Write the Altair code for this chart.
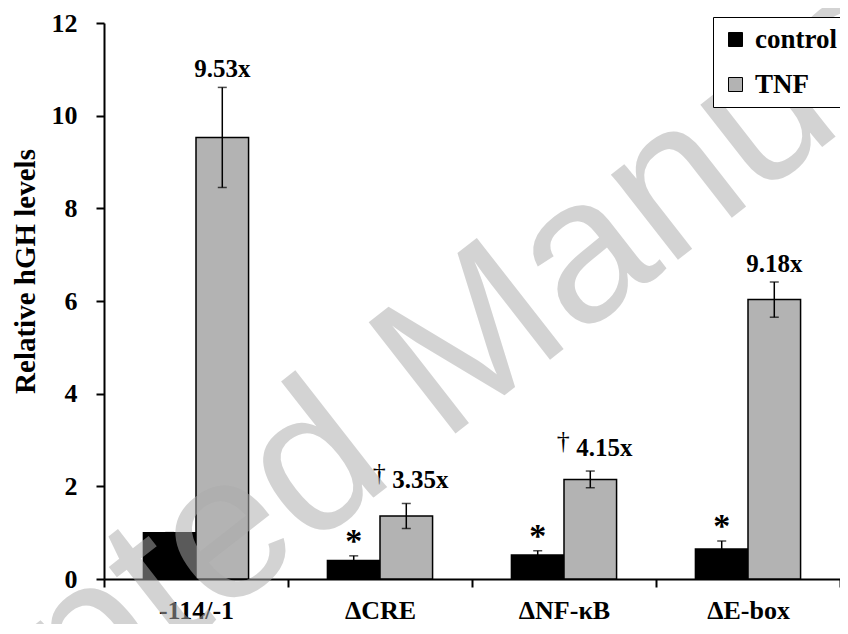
import altair as alt
import pandas as pd

# ---- data ----
categories = ["-114/-1", "ΔCRE", "ΔNF-κB", "ΔE-box"]
series = ["control", "TNF"]
control_mean = [1.00, 0.40, 0.52, 0.65]
control_err = [0.00, 0.10, 0.09, 0.17]
tnf_mean = [9.53, 1.36, 2.15, 6.03]
tnf_err = [1.08, 0.27, 0.18, 0.38]
fold_labels = ["9.53x", "3.35x", "4.15x", "9.18x"]
tnf_dagger = [False, True, True, False]
control_star = [False, True, True, True]
y_ticks = [0, 2, 4, 6, 8, 10, 12]
watermark = "Accepted Manuscript"

rows = []
for i, c in enumerate(categories):
    rows.append(dict(cat=c, series="control", mean=control_mean[i], err=control_err[i],
                     label="", dagger=False, star=control_star[i]))
    rows.append(dict(cat=c, series="TNF", mean=tnf_mean[i], err=tnf_err[i],
                     label=fold_labels[i], dagger=tnf_dagger[i], star=False))
df = pd.DataFrame(rows)
df["lo"] = df["mean"] - df["err"]
df["hi"] = df["mean"] + df["err"]

SERIF = "'Liberation Serif', 'Times New Roman', Times, serif"

x_axis = alt.Axis(title=None, labelAngle=0, labelFontSize=26, labelFont=SERIF,
                  labelFontWeight="bold", labelColor="black", labelPadding=31,
                  labelBaseline="alphabetic", tickBand="extent", tickSize=8,
                  tickWidth=2, tickColor="black", domainWidth=2,
                  domainColor="black", grid=False)
x_scale = alt.Scale(paddingInner=0, paddingOuter=0)
y_axis = alt.Axis(values=y_ticks, format="d", title="Relative hGH levels",
                  labelFontSize=26, labelFont=SERIF, labelFontWeight="bold",
                  labelColor="black", labelPadding=19, tickSize=8, tickWidth=2,
                  tickColor="black", domainWidth=2, domainColor="black",
                  grid=False, titleFont=SERIF, titleFontSize=29,
                  titleFontWeight="bold", titleColor="black", titleAngle=270,
                  titleX=-79, titleY=248, titleAlign="center",
                  titleBaseline="middle")
y_scale = alt.Scale(domain=[0, 12], nice=False)


def X():
    return alt.X("cat:N", sort=categories, scale=x_scale, axis=x_axis)


def Y(field):
    return alt.Y(field, scale=y_scale, axis=y_axis)


xo = alt.XOffset("series:N", sort=series,
                 scale=alt.Scale(paddingInner=0, paddingOuter=0.75))

base = alt.Chart(df)

bars = base.mark_bar(stroke="black", strokeWidth=1.5).encode(
    x=X(), xOffset=xo, y=Y("mean:Q"),
    color=alt.Color("series:N", sort=series,
                    scale=alt.Scale(domain=series, range=["#000000", "#b3b3b3"]),
                    legend=alt.Legend(title=None, orient="none", legendX=609, legendY=-6,
                                      direction="vertical", symbolType="square",
                                      symbolSize=196, symbolStrokeColor="black",
                                      symbolStrokeWidth=1, labelFont=SERIF,
                                      labelFontWeight="bold", labelFontSize=27,
                                      labelColor="black", labelOffset=6, rowPadding=17,
                                      padding=9, strokeColor="black", fillColor="white",
                                      cornerRadius=0)),
)

err_rule = base.mark_rule(color="black", strokeWidth=1.5).encode(
    x=X(), xOffset=xo, y=Y("lo:Q"), y2="hi:Q")
cap_hi = base.mark_tick(color="black", thickness=1.5, size=9).encode(
    x=X(), xOffset=xo, y=Y("hi:Q"))
cap_lo = base.mark_tick(color="black", thickness=1.5, size=9).encode(
    x=X(), xOffset=xo, y=Y("lo:Q"))

txt = dict(font=SERIF, fontWeight="bold", color="black", baseline="alphabetic")

fold_plain = base.transform_filter(
    "datum.series == 'TNF' && !datum.dagger").mark_text(dy=-10, fontSize=25, **txt).encode(
    x=X(), xOffset=xo, y=Y("hi:Q"), text="label:N")
fold_dag = base.transform_filter(
    "datum.series == 'TNF' && datum.dagger").mark_text(dx=14, dy=-15, fontSize=25, **txt).encode(
    x=X(), xOffset=xo, y=Y("hi:Q"), text="label:N")
dagger = base.transform_filter("datum.dagger").mark_text(
    dx=-27, dy=-22, fontSize=26, font=SERIF, color="black", baseline="alphabetic").encode(
    x=X(), xOffset=xo, y=Y("hi:Q"), text=alt.value("†"))
stars = base.transform_filter("datum.star").mark_text(dy=-4, fontSize=34, **txt).encode(
    x=X(), xOffset=xo, y=Y("hi:Q"), text=alt.value("*"))

wm = alt.Chart(pd.DataFrame({"t": [watermark]})).mark_text(
    font="'Liberation Sans', Arial, sans-serif", fontSize=205, angle=322, align="center",
    baseline="middle", color="#acacac", opacity=0.52).encode(
    text="t:N", x=alt.value(336), y=alt.value(344))

chart = alt.layer(bars, err_rule, cap_hi, cap_lo, fold_plain, fold_dag, dagger, stars, wm).properties(
    width=736, height=556,
    autosize=alt.AutoSizeParams(type="none"),
    padding={"left": 96, "top": 15, "right": 0, "bottom": 45},
).configure_view(stroke=None)

chart.save("out.html", embed_options={"renderer": "svg", "actions": False})
